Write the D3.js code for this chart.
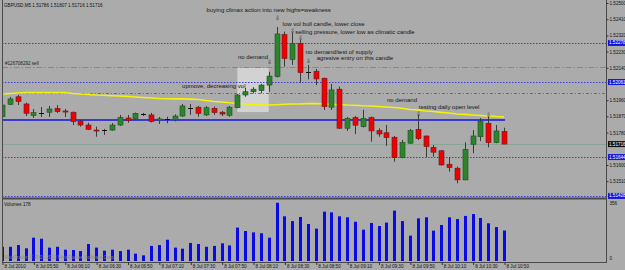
<!DOCTYPE html>
<html>
<head>
<meta charset="utf-8">
<script src="https://cdn.jsdelivr.net/npm/d3@7"></script>
<style>
    html, body { margin: 0; padding: 0; background: #ababab; }
    svg { display: block; }
    text { font-family: "Liberation Sans", Arial, sans-serif; }
</style>
</head>
<body>
<div id="chart"></div>
<script>
const symbol = "GBPUSD,M5";

const times = [
    "05:30", "05:35", "05:40", "05:45", "05:50", "05:55",
    "06:00", "06:05", "06:10", "06:15", "06:20", "06:25", "06:30", "06:35", "06:40", "06:45", "06:50", "06:55",
    "07:00", "07:05", "07:10", "07:15", "07:20", "07:25", "07:30", "07:35", "07:40", "07:45", "07:50", "07:55",
    "08:00", "08:05", "08:10", "08:15", "08:20", "08:25", "08:30", "08:35", "08:40", "08:45", "08:50", "08:55",
    "09:00", "09:05", "09:10", "09:15", "09:20", "09:25", "09:30", "09:35", "09:40", "09:45", "09:50", "09:55",
    "10:00", "10:05", "10:10", "10:15", "10:20", "10:25", "10:30", "10:35", "10:40", "10:45", "10:50"
];

const opens = [
    1.51868, 1.51937, 1.51979, 1.51939, 1.51876, 1.51887, 1.51893, 1.51915, 1.51900, 1.51893,
    1.51844, 1.51822, 1.51794, 1.51792, 1.51794, 1.51822, 1.51861, 1.51856, 1.51882, 1.51878,
    1.51849, 1.51857, 1.51850, 1.51872, 1.51918, 1.51921, 1.51878, 1.51915, 1.51893, 1.51876,
    1.51918, 1.51989, 1.52007, 1.52013, 1.52044, 1.52091, 1.52324, 1.52187, 1.52276, 1.52118,
    1.52121, 1.52082, 1.51921, 1.52021, 1.51804, 1.51863, 1.51813, 1.51863, 1.51791, 1.51779,
    1.51754, 1.51641, 1.51721, 1.51798, 1.51761, 1.51698, 1.51679, 1.51604, 1.51582, 1.51517,
    1.51715, 1.51757, 1.51832, 1.51724, 1.51786
];
const highs = [
    1.51944, 1.51978, 1.51989, 1.51946, 1.51911, 1.51922, 1.51928, 1.51933, 1.51911, 1.51897,
    1.51850, 1.51835, 1.51813, 1.51800, 1.51833, 1.51878, 1.51878, 1.51891, 1.51889, 1.51889,
    1.51867, 1.51868, 1.51881, 1.51939, 1.51939, 1.51929, 1.51928, 1.51925, 1.51900, 1.51928,
    1.51994, 1.52028, 1.52032, 1.52050, 1.52118, 1.52367, 1.52341, 1.52335, 1.52294, 1.52156,
    1.52133, 1.52085, 1.52050, 1.52035, 1.51867, 1.51872, 1.51906, 1.51869, 1.51804, 1.51822,
    1.51761, 1.51739, 1.51800, 1.51878, 1.51763, 1.51711, 1.51683, 1.51643, 1.51591, 1.51726,
    1.51794, 1.51861, 1.51868, 1.51822, 1.51807
];
const lows = [
    1.51861, 1.51933, 1.51933, 1.51872, 1.51861, 1.51867, 1.51867, 1.51889, 1.51867, 1.51822,
    1.51813, 1.51794, 1.51757, 1.51767, 1.51790, 1.51817, 1.51835, 1.51850, 1.51872, 1.51836,
    1.51828, 1.51832, 1.51842, 1.51867, 1.51878, 1.51868, 1.51872, 1.51878, 1.51872, 1.51868,
    1.51915, 1.51979, 1.51998, 1.51998, 1.52007, 1.52086, 1.52146, 1.52156, 1.52057, 1.52076,
    1.52044, 1.51906, 1.51906, 1.51800, 1.51789, 1.51772, 1.51808, 1.51729, 1.51757, 1.51706,
    1.51618, 1.51637, 1.51717, 1.51739, 1.51643, 1.51646, 1.51596, 1.51563, 1.51498, 1.51515,
    1.51665, 1.51733, 1.51698, 1.51721, 1.51716
];
const closes = [
    1.51933, 1.51967, 1.51952, 1.51887, 1.51891, 1.51887, 1.51911, 1.51896, 1.51894, 1.51841,
    1.51822, 1.51798, 1.51791, 1.51792, 1.51822, 1.51863, 1.51848, 1.51887, 1.51882, 1.51841,
    1.51856, 1.51857, 1.51872, 1.51928, 1.51918, 1.51887, 1.51918, 1.51891, 1.51883, 1.51921,
    1.51989, 1.52007, 1.52021, 1.52044, 1.52094, 1.52328, 1.52191, 1.52276, 1.52113, 1.52118,
    1.52078, 1.51924, 1.52017, 1.51804, 1.51859, 1.51821, 1.51859, 1.51789, 1.51772, 1.51752,
    1.51641, 1.51724, 1.51791, 1.51746, 1.51702, 1.51671, 1.51600, 1.51585, 1.51517, 1.51687,
    1.51761, 1.51841, 1.51724, 1.51789, 1.51716
];
const volumes = [
    83, 83, 93, 74, 136, 130, 78, 83, 66, 64,
    58, 99, 78, 60, 66, 58, 66, 43, 33, 88,
    93, 124, 78, 72, 105, 99, 83, 88, 103, 91,
    195, 175, 167, 162, 136, 340, 261, 233, 257, 216,
    189, 288, 284, 261, 255, 229, 183, 222, 204, 224,
    294, 233, 148, 249, 255, 177, 210, 255, 245, 263,
    274, 251, 220, 198, 178
];
// moving average (yellow)
const maValues = [
    1.51994, 1.51997, 1.52000, 1.52002, 1.52002, 1.52002, 1.52002, 1.52002, 1.52002, 1.51997,
    1.51994, 1.51992, 1.51989, 1.51987, 1.51985, 1.51983, 1.51981, 1.51978, 1.51975, 1.51972,
    1.51969, 1.51968, 1.51967, 1.51967, 1.51966, 1.51964, 1.51958, 1.51953, 1.51950, 1.51946,
    1.51943, 1.51939, 1.51936, 1.51935, 1.51933, 1.51935, 1.51937, 1.51939, 1.51939, 1.51941,
    1.51941, 1.51939, 1.51937, 1.51935, 1.51933, 1.51932, 1.51929, 1.51928, 1.51925, 1.51922,
    1.51919, 1.51915, 1.51908, 1.51906, 1.51900, 1.51897, 1.51892, 1.51889, 1.51883, 1.51881,
    1.51878, 1.51875, 1.51872, 1.51869, 1.51867
];

const priceMin = 1.51422;
const priceMax = 1.52500;
const priceTicks = [1.52500, 1.52410, 1.52320, 1.52230, 1.52140, 1.52050, 1.51960, 1.51870, 1.51780, 1.51690, 1.51600, 1.51510];
const volMax = 356;

const tickTimes = ["05:30", "05:50", "06:10", "06:30", "06:50", "07:10", "07:30", "07:50", "08:10", "08:30", "08:50", "09:10", "09:30", "09:50", "10:10", "10:30", "10:50"];
const tickLabels = ["8 Jul 2010", "8 Jul 05:50", "8 Jul 06:10", "8 Jul 06:30", "8 Jul 06:50", "8 Jul 07:10", "8 Jul 07:30", "8 Jul 07:50", "8 Jul 08:10", "8 Jul 08:30", "8 Jul 08:50", "8 Jul 09:10", "8 Jul 09:30", "8 Jul 09:50", "8 Jul 10:10", "8 Jul 10:30", "8 Jul 10:50"];

// horizontal levels
const levelPrices = [1.52278, 1.52147, 1.52061, 1.52000, 1.51716, 1.51644, 1.51428];
const levelKinds = ["pending", "order", "pending", "target", "bid", "pending", "pending"];
const orderLabel = "#126708292 sell";

// daily open trend line
const openLinePrice = 1.51850;
const openLineTimes = ["05:30", "10:50"];

// shaded box
const boxTimes = ["08:00", "08:20"];
const boxPrices = [1.52139, 1.51894];

// text notes
const noteTimes = ["08:20", "08:55", "09:15", "09:05", "09:15", "08:10", "07:45", "09:45", "10:15"];
const notePrices = [1.52461, 1.52382, 1.52338, 1.52228, 1.52194, 1.52200, 1.52039, 1.51961, 1.51924];
const noteTexts = [
    "buying climax action into new highs=weakness",
    "low vol bull candle, lower close",
    "selling pressure, lower low as climatic candle",
    "no demand/test of supply",
    "agresive entry on this candle",
    "no demand",
    "upmove, decreasing vol",
    "no demand",
    "testing daily open level"
];
const arrowTimes = ["08:25", "08:35", "08:40", "08:45", "08:20", "09:55", "10:40"];
const arrowPrices = [1.52419, 1.52347, 1.52305, 1.52180, 1.52170, 1.51881, 1.51876];

document.addEventListener('DOMContentLoaded', () => {
    const width = 625;
    const height = 270;
    const left = 2, right = 606;
    const top = 1, mainBottom = 198, volTop = 199, volBottom = 262;
    const fmt = d3.format('.5f');

    const bars = times.map((t, i) => ({
        t, o: opens[i], h: highs[i], l: lows[i], c: closes[i], v: volumes[i], ma: maValues[i]
    }));

    const x = d3.scalePoint().domain(times).range([2, 504]);
    const y = d3.scaleLinear().domain([priceMin, priceMax]).range([197, 3]);
    const yVol = d3.scaleLinear().domain([0, volMax]).range([261, 200]);
    const px = t => Math.round(x(t));

    const svg = d3.select('#chart').append('svg')
        .attr('width', width)
        .attr('height', height);

    svg.append('rect').attr('width', width).attr('height', height).attr('fill', '#ababab');

    const defs = svg.append('defs');
    defs.append('clipPath').attr('id', 'clipMain')
        .append('rect').attr('x', left + 1).attr('y', top).attr('width', right - left - 1).attr('height', mainBottom - top);
    defs.append('clipPath').attr('id', 'clipVol')
        .append('rect').attr('x', left + 1).attr('y', volTop).attr('width', right - left - 1).attr('height', volBottom - volTop);

    const main = svg.append('g').attr('clip-path', 'url(#clipMain)');

    // shaded box
    main.append('rect')
        .attr('x', x(boxTimes[0]))
        .attr('y', y(boxPrices[0]))
        .attr('width', x(boxTimes[1]) - x(boxTimes[0]))
        .attr('height', y(boxPrices[1]) - y(boxPrices[0]))
        .attr('fill', '#d2d2d2');

    // level lines
    const levelStyle = {
        pending: { stroke: '#3b3bdc', dash: '1.5,1.5', width: 1 },
        order: { stroke: '#4fae4f', dash: '6,2,1.5,2', width: 1 },
        target: { stroke: '#d94040', dash: '3,2,1,2', width: 1 },
        bid: { stroke: '#8aa597', dash: null, width: 1 }
    };
    main.selectAll('line.level')
        .data(levelPrices)
        .enter()
        .append('line')
        .attr('class', 'level')
        .attr('x1', left)
        .attr('x2', right)
        .attr('y1', d => Math.round(y(d)) + 0.5)
        .attr('y2', d => Math.round(y(d)) + 0.5)
        .attr('stroke', (d, i) => levelStyle[levelKinds[i]].stroke)
        .attr('stroke-width', (d, i) => levelStyle[levelKinds[i]].width)
        .attr('stroke-dasharray', (d, i) => levelStyle[levelKinds[i]].dash);

    main.append('text')
        .attr('x', 5)
        .attr('y', y(levelPrices[1]) - 1.5)
        .attr('font-size', 4.6)
        .attr('fill', '#222')
        .text(orderLabel);

    // daily open line
    main.append('line')
        .attr('x1', left)
        .attr('x2', x(openLineTimes[1]) + 1)
        .attr('y1', y(openLinePrice))
        .attr('y2', y(openLinePrice))
        .attr('stroke', '#3a3ad0')
        .attr('stroke-width', 2);

    // moving average
    main.append('path')
        .datum(bars)
        .attr('fill', 'none')
        .attr('stroke', '#f2f20a')
        .attr('stroke-width', 1.6)
        .attr('d', d3.line().x(d => x(d.t)).y(d => y(d.ma)));

    // candles
    main.selectAll('line.wick')
        .data(bars)
        .enter()
        .append('line')
        .attr('class', 'wick')
        .attr('x1', d => px(d.t) + 0.5)
        .attr('x2', d => px(d.t) + 0.5)
        .attr('y1', d => y(d.h))
        .attr('y2', d => y(d.l))
        .attr('stroke', '#3a3a3a')
        .attr('stroke-width', 1);

    main.selectAll('rect.body')
        .data(bars.filter(d => d.o !== d.c))
        .enter()
        .append('rect')
        .attr('class', 'body')
        .attr('x', d => px(d.t) - 2)
        .attr('y', d => y(Math.max(d.o, d.c)))
        .attr('width', 5)
        .attr('height', d => Math.max(1, Math.abs(y(d.o) - y(d.c))))
        .attr('fill', d => d.c > d.o ? '#2c852c' : '#f00000')
        .attr('stroke', d => d.c > d.o ? '#1f4f1f' : '#6a1a1a')
        .attr('stroke-width', 0.6);

    main.selectAll('line.doji')
        .data(bars.filter(d => d.o === d.c))
        .enter()
        .append('line')
        .attr('class', 'doji')
        .attr('x1', d => px(d.t) - 2)
        .attr('x2', d => px(d.t) + 3)
        .attr('y1', d => Math.round(y(d.c)) + 0.5)
        .attr('y2', d => Math.round(y(d.c)) + 0.5)
        .attr('stroke', '#111')
        .attr('stroke-width', 1);

    // notes
    main.selectAll('text.note')
        .data(noteTexts)
        .enter()
        .append('text')
        .attr('class', 'note')
        .attr('x', (d, i) => x(noteTimes[i]))
        .attr('y', (d, i) => y(notePrices[i]))
        .attr('text-anchor', 'middle')
        .attr('dominant-baseline', 'central')
        .attr('font-size', 6)
        .attr('fill', '#151515')
        .text(d => d);

    main.selectAll('text.arrow')
        .data(arrowTimes)
        .enter()
        .append('text')
        .attr('class', 'arrow')
        .attr('x', d => x(d) + 0.5)
        .attr('y', (d, i) => y(arrowPrices[i]))
        .attr('text-anchor', 'middle')
        .attr('dominant-baseline', 'central')
        .attr('font-family', 'DejaVu Sans')
        .attr('font-size', 6)
        .attr('fill', '#222')
        .text('\u21E9');

    // header
    const last = bars[bars.length - 1];
    svg.append('text')
        .attr('x', 4)
        .attr('y', 5)
        .attr('dominant-baseline', 'central')
        .attr('font-size', 4.6)
        .attr('fill', '#111')
        .text(`${symbol}  ${fmt(last.o)} ${fmt(last.h)} ${fmt(last.l)} ${fmt(last.c)}`);

    // volume panel
    const vol = svg.append('g').attr('clip-path', 'url(#clipVol)');
    vol.selectAll('rect')
        .data(bars)
        .enter()
        .append('rect')
        .attr('x', d => px(d.t) - 1)
        .attr('y', d => yVol(d.v))
        .attr('width', 3)
        .attr('height', d => yVol(0) - yVol(d.v))
        .attr('fill', '#0a0ae6');

    svg.append('text')
        .attr('x', 4)
        .attr('y', 204.5)
        .attr('dominant-baseline', 'central')
        .attr('font-size', 4.6)
        .attr('fill', '#111')
        .text(`Volumes ${last.v}`);

    svg.append('text')
        .attr('x', 4)
        .attr('y', 257)
        .attr('dominant-baseline', 'central')
        .attr('font-size', 4.6)
        .attr('fill', '#8a8a8a')
        .text('MetaTrader, \u00A9 2001-2010 MetaQuotes Software Corp.');

    // frames
    const frame = svg.append('g').attr('fill', 'none').attr('stroke', '#4a4a4a');
    frame.append('line').attr('x1', left + 0.5).attr('x2', left + 0.5).attr('y1', 0).attr('y2', volBottom);
    frame.append('line').attr('x1', right + 0.5).attr('x2', right + 0.5).attr('y1', 0).attr('y2', volBottom);
    frame.append('line').attr('x1', left).attr('x2', right + 1).attr('y1', mainBottom + 0.5).attr('y2', mainBottom + 0.5).attr('stroke-width', 2);
    frame.append('line').attr('x1', left).attr('x2', right + 1).attr('y1', volBottom + 0.5).attr('y2', volBottom + 0.5);

    // highlighted price labels
    const tags = levelPrices
        .map((p, i) => ({ p, kind: levelKinds[i] }))
        .filter(d => d.kind === 'pending' || d.kind === 'bid');

    // price axis (labels hidden where a highlighted tag sits on top)
    const yAxis = d3.axisRight(y)
        .tickValues(priceTicks.filter(v => !tags.some(t => Math.abs(y(t.p) - y(v)) < 5)))
        .tickSize(2)
        .tickFormat(fmt);
    const ga = svg.append('g')
        .attr('transform', `translate(${right + 0.5}, 0)`)
        .call(yAxis);
    ga.select('.domain').remove();
    ga.selectAll('line').attr('stroke', '#333');
    ga.selectAll('text')
        .attr('x', 3)
        .attr('font-size', 4.6)
        .attr('font-family', '"Liberation Sans", Arial, sans-serif')
        .attr('fill', '#111');

    const tag = svg.selectAll('g.tag')
        .data(tags)
        .enter()
        .append('g')
        .attr('class', 'tag')
        .attr('transform', d => `translate(${right + 2}, ${y(d.p)})`);
    tag.append('rect')
        .attr('x', 0)
        .attr('y', -3)
        .attr('width', 20)
        .attr('height', 6)
        .attr('fill', d => d.kind === 'bid' ? '#111' : '#1515e0');
    tag.append('text')
        .attr('x', 1)
        .attr('dominant-baseline', 'central')
        .attr('font-size', 4.6)
        .attr('fill', '#fff')
        .text(d => fmt(d.p));

    // volume axis
    const vAxis = d3.axisRight(yVol).tickValues([volMax, 0]).tickSize(0).tickFormat(d3.format('d'));
    const gv = svg.append('g')
        .attr('transform', `translate(${right + 0.5}, 0)`)
        .call(vAxis);
    gv.select('.domain').remove();
    gv.selectAll('text')
        .attr('x', 3)
        .attr('dy', d => d === 0 ? '-0.3em' : '0.9em')
        .attr('font-size', 4.6)
        .attr('font-family', '"Liberation Sans", Arial, sans-serif')
        .attr('fill', '#111');

    // time axis
    const xAxis = d3.axisBottom(x)
        .tickValues(tickTimes)
        .tickSize(3)
        .tickFormat((d, i) => tickLabels[i]);
    const gx = svg.append('g')
        .attr('transform', `translate(0.5, ${volBottom})`)
        .call(xAxis);
    gx.select('.domain').remove();
    gx.selectAll('line').attr('stroke', '#333');
    gx.selectAll('text')
        .attr('text-anchor', 'start')
        .attr('x', 1.5)
        .attr('y', 2.5)
        .attr('font-size', 4.6)
        .attr('font-family', '"Liberation Sans", Arial, sans-serif')
        .attr('fill', '#111');
});
</script>
</body>
</html>
